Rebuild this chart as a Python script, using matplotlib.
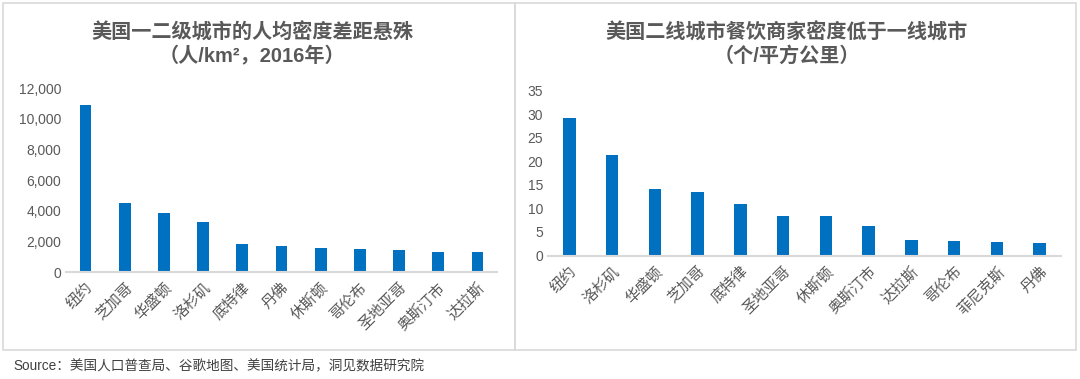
import matplotlib
matplotlib.use("Agg")
import matplotlib.pyplot as plt
from matplotlib.patches import Rectangle
from matplotlib.ticker import FuncFormatter

plt.rcParams['font.family'] = ['Liberation Sans', 'Noto Sans CJK SC', 'DejaVu Sans']

# left chart: population density (people/km2, 2016)
cities_pop = ['纽约', '芝加哥', '华盛顿', '洛杉矶', '底特律', '丹佛',
              '休斯顿', '哥伦布', '圣地亚哥', '奥斯汀市', '达拉斯']
density_pop = [10900, 4480, 3870, 3280, 1820, 1680, 1580, 1520, 1450, 1320, 1320]

# right chart: restaurant density (per km2)
cities_food = ['纽约', '洛杉矶', '华盛顿', '芝加哥', '底特律', '圣地亚哥',
               '休斯顿', '奥斯汀市', '达拉斯', '哥伦布', '菲尼克斯', '丹佛']
density_food = [29.1, 21.3, 14.1, 13.5, 10.9, 8.3, 8.3, 6.2, 3.2, 3.0, 2.8, 2.7]

title_left = '美国一二级城市的人均密度差距悬殊\n（人/km²，2016年）'
title_right = '美国二线城市餐饮商家密度低于一线城市\n（个/平方公里）'
source = 'Source：美国人口普查局、谷歌地图、美国统计局，洞见数据研究院'

bar_color = '#0070C0'
text_color = '#595959'
line_color = '#D9D9D9'

fig = plt.figure(figsize=(10.8, 3.79), dpi=100)
W, H = 1080, 379

# panel frames
for x0, x1 in [(3, 515), (515, 1076)]:
    fig.add_artist(Rectangle((x0 / W, 1 - 350 / H), (x1 - x0) / W, 347 / H,
                             transform=fig.transFigure, fill=False,
                             edgecolor=line_color, linewidth=1.2))


def style(ax, labels):
    for s in ['top', 'right', 'left']:
        ax.spines[s].set_visible(False)
    ax.spines['bottom'].set_color(line_color)
    ax.spines['bottom'].set_linewidth(1.5)
    ax.tick_params(axis='both', length=0, colors=text_color, labelsize=10)
    ax.set_xticks(range(len(labels)))
    ax.set_xticklabels(labels, rotation=45, ha='right', va='top',
                       rotation_mode='anchor', fontsize=10.8, color=text_color)
    ax.tick_params(axis='x', pad=6)


ax1 = fig.add_axes([66 / W, 1 - 272 / H, (497 - 66) / W, (272 - 88.3) / H])
ax1.bar(range(len(cities_pop)), density_pop, width=0.3, color=bar_color)
ax1.set_xlim(-0.5, len(cities_pop) - 0.5)
ax1.set_ylim(0, 12000)
ax1.set_yticks(range(0, 12001, 2000))
ax1.yaxis.set_major_formatter(FuncFormatter(lambda v, p: f'{int(v):,}'))
style(ax1, cities_pop)

ax2 = fig.add_axes([548 / W, 1 - 255.5 / H, (1061 - 548) / W, (255.5 - 90.7) / H])
ax2.bar(range(len(cities_food)), density_food, width=0.29, color=bar_color)
ax2.set_xlim(-0.5, len(cities_food) - 0.5)
ax2.set_ylim(0, 35)
ax2.set_yticks(range(0, 36, 5))
style(ax2, cities_food)

fig.text(252 / W, 1 - 44 / H, title_left, ha='center', va='center',
         fontsize=14.5, fontweight='bold', color=text_color, linespacing=1.2)
fig.text(787 / W, 1 - 44 / H, title_right, ha='center', va='center',
         fontsize=14.5, fontweight='bold', color=text_color, linespacing=1.2)

fig.text(13 / W, 1 - 366 / H, source, ha='left', va='center',
         fontsize=9.8, color='#404040')

fig.savefig('out.png', dpi=100)
